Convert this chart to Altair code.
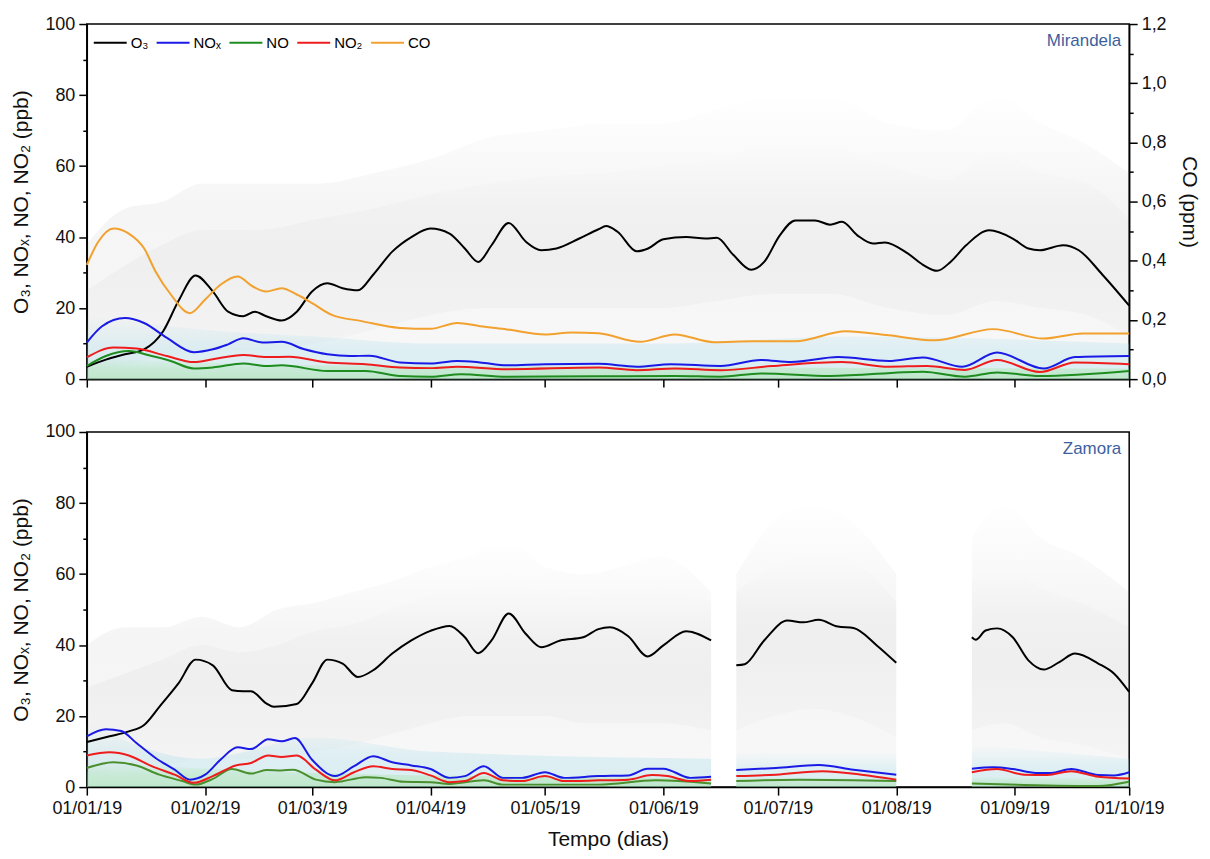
import altair as alt
import pandas as pd

FONT = "Liberation Sans"
W, H = 1045, 356

# x axis: days since 01/01/19, ticks at the first day of each month
MONTH_TICKS = [0, 31, 59, 90, 120, 151, 181, 212, 243, 273]
SERIES = ["O₃", "NOₓ", "NO", "NO₂", "CO"]
TOP_COLORS = ["#000000", "#1a1ae6", "#1e8c1e", "#ee1c1c", "#f2a12e"]
BOT_COLORS = ["#000000", "#1a1ae6", "#4a8f2e", "#ee1c1c", "#f2a12e"]

# ---------------- Mirandela (day, ppb) ----------------
MIR_O3 = [(0, 3.5), (5, 5.5), (10, 7), (15, 8.4), (20, 13.5), (24, 22), (28.5, 29.2),
          (33, 24.7), (37, 19), (41, 17.7), (44, 19), (47, 17.7), (51, 16.5), (55, 19),
          (59, 24.7), (63, 27), (67, 25.6), (71, 25), (75, 29.4), (80, 35.9), (85, 40),
          (90, 42.4), (95, 41), (99, 36.8), (102.5, 33), (106, 37.7), (110.5, 44),
          (115, 38.7), (119, 36.3), (123, 36.8), (129, 39.6), (134, 42.2), (136, 43.1),
          (139, 41.5), (144, 36.0), (147, 36.8), (151, 39.4), (157, 40), (162, 39.6),
          (165, 39.8), (169.3, 35), (174, 30.8), (177.4, 33), (181.5, 40.5), (185.6, 44.7),
          (190.7, 44.7), (194.7, 43.5), (197.8, 44.3), (201.8, 40.5), (205.9, 38.2),
          (209, 38.5), (215, 35.4), (219, 32.2), (222.7, 30.5), (226.2, 33), (230.3, 37.7),
          (236.4, 41.9), (242.5, 39.6), (246.6, 36.8), (249.6, 36.3), (255.7, 37.7),
          (259.8, 36.3), (266, 29.4), (273, 20.7)]
MIR_NOX = [(0, 10.3), (4, 14.9), (10, 17.2), (15, 15.8), (21, 11.6), (28, 7.6), (33, 8.4),
           (37, 9.8), (41, 11.5), (46, 10.3), (51, 10.5), (57, 8.4), (63, 7), (69, 6.5),
           (74, 6.6), (82, 4.7), (90, 4.4), (97, 5.1), (103, 4.7), (110, 3.9), (120, 4.2),
           (134, 4.3), (144, 3.5), (153, 4.2), (166, 3.7), (176.5, 5.4), (184.5, 4.8),
           (196.8, 6.2), (210, 5.1), (219, 6.1), (229.3, 3.5), (238.4, 7.5), (250.6, 3),
           (258.8, 6.2), (273, 6.5)]
MIR_NO2 = [(0, 6.1), (7, 8.9), (13, 8.6), (21, 6.5), (28, 4.8), (33, 5.6), (41, 6.8),
           (47, 6.2), (53, 6.3), (63, 4.7), (73, 4.2), (82, 3.3), (90, 3.1), (97, 3.5),
           (110, 2.8), (134, 3.3), (144, 2.5), (154, 3), (166, 2.5), (179.5, 3.7),
           (197.8, 4.8), (210, 3.5), (220, 3.7), (230, 2.6), (238.4, 5.4), (249.6, 2),
           (258.8, 4.7), (273, 4.2)]
MIR_NO = [(0, 3.7), (5, 6.5), (11, 7.9), (17, 6.5), (22, 5.1), (28, 3), (33, 3.3), (41, 4.4),
          (47, 3.7), (51, 3.9), (63, 2.3), (73, 2.3), (82, 0.9), (90, 0.7), (98, 1.4),
          (110, 0.7), (134, 0.8), (154, 0.9), (166, 0.7), (176.5, 1.6), (194.7, 0.9),
          (219, 2.1), (230, 0.7), (238.4, 1.9), (249.6, 0.9), (273, 2.3)]
# CO in ppm (right axis)
MIR_CO = [(0, 0.386), (3, 0.464), (7, 0.509), (11, 0.492), (15, 0.442), (18, 0.364),
          (22, 0.286), (27, 0.223), (31, 0.269), (35, 0.319), (39.5, 0.347), (43.5, 0.313),
          (47, 0.296), (51, 0.307), (55, 0.286), (59, 0.257), (64, 0.218), (72, 0.196),
          (82, 0.173), (90, 0.170), (97, 0.190), (103, 0.179), (110, 0.168), (120, 0.151),
          (127, 0.158), (134, 0.155), (144.9, 0.126), (154, 0.151), (164.2, 0.125),
          (174.4, 0.128), (185.6, 0.128), (198.8, 0.162), (210, 0.148), (222, 0.131),
          (237.4, 0.169), (250.6, 0.137), (260.8, 0.154), (273, 0.154)]
# hourly-data cloud envelope: (day, dense low, dense high, max)
MIR_O3_CLOUD = [(0, 2, 25, 38), (10, 4, 32, 48), (20, 6, 38, 50), (30, 8, 42, 55),
                (45, 8, 42, 55), (60, 10, 45, 55), (75, 14, 48, 58), (90, 18, 52, 62),
                (105, 20, 55, 68), (120, 20, 57, 70), (135, 20, 58, 72), (150, 20, 60, 72),
                (165, 22, 62, 76), (180, 24, 66, 80), (195, 24, 65, 80), (210, 20, 60, 72),
                (225, 18, 56, 70), (238, 22, 64, 80), (250, 20, 58, 72), (262, 18, 55, 66),
                (273, 12, 45, 58)]
MIR_NOX_CLOUD = [(0, 18), (30, 14), (60, 12), (90, 10), (150, 10), (200, 12), (273, 10)]
MIR_NO_CLOUD = [(0, 6), (60, 4), (273, 3)]

# ---------------- Zamora (day, ppb), data gaps split into segments ----------------
ZAM_O3 = [
    [(0, 12.7), (6, 14.3), (11, 15.7), (15, 17.5), (19, 22.6), (24, 29.2), (28.5, 35.9),
     (33, 34.3), (38, 27.3), (41, 27), (43, 27), (47, 23.6), (49, 22.6), (55, 23.4),
     (59, 29.2), (63, 35.9), (67, 34.8), (71, 31), (75, 32.9), (80, 37.6), (85, 41.3),
     (90, 44), (95, 45.4), (99, 42.2), (102.5, 37.7), (106, 41.3), (110.5, 48.9),
     (115, 43.1), (119, 39.4), (124, 41.3), (130, 42.2), (134, 44.5), (137, 45),
     (141.8, 42.5), (146.9, 36.8), (151, 39.9), (157, 43.9), (163.5, 41.3)],
    [(170.1, 34.3), (172.3, 34.6), (177.4, 41.3), (183.5, 46.9), (187.6, 46.4),
     (191.7, 47.1), (196.7, 45.2), (200.8, 44.8), (206.9, 39.9), (212, 35)],
    [(231.8, 42.2), (232.8, 41.5), (235.4, 44.1), (238.4, 44.7), (242.5, 42.2),
     (246.6, 35.7), (250.6, 33.1), (254.7, 35.2), (258.8, 37.6), (264.9, 34.8),
     (269, 32), (273, 26.8)],
]
ZAM_NOX = [
    [(0, 14.3), (5, 16.3), (9, 15.8), (13, 12.4), (18, 8.2), (23, 4.9), (27, 2.1), (31, 3.5),
     (35, 7.7), (39.5, 11.2), (43, 10.7), (47.5, 13.5), (51, 12.9), (54.5, 13.8), (59, 7.7),
     (65, 3.1), (70, 5.9), (75, 8.7), (80, 7), (85, 6.1), (90, 5.1), (95, 2.6), (99, 3.1),
     (104, 5.9), (109, 2.6), (114, 2.6), (120, 4.2), (125, 2.6), (134, 3.1), (141.8, 3.3),
     (146.9, 5.2), (151, 5.2), (158.1, 2.6), (163.5, 2.9)],
    [(170.1, 4.8), (180.5, 5.4), (191.7, 6.2), (200.8, 4.9), (212, 3.5)],
    [(231.8, 5.2), (237.4, 5.6), (242.5, 5.1), (248.6, 4), (252.6, 4), (257.8, 5.1),
     (264.9, 3.4), (269, 3.3), (273, 4.2)],
]
ZAM_NO2 = [
    [(0, 8.9), (6, 9.8), (11, 8.9), (17, 5.9), (23, 3.5), (28, 1.2), (33, 3.1), (39, 6.1),
     (43, 6.8), (47.5, 8.9), (51, 8.5), (55, 8.9), (60, 4.9), (65, 1.9), (70, 4.2), (75, 5.9),
     (80, 5.1), (85, 4.8), (90, 3.3), (95, 1.4), (99, 1.7), (104, 4), (109, 1.9), (114, 1.7),
     (120, 3.1), (125, 1.7), (134, 1.9), (141.8, 2.1), (148, 3.4), (152, 3.1), (158.1, 1.7),
     (163.5, 2.1)],
    [(170.1, 3.1), (180.5, 3.5), (192.7, 4.5), (202.9, 3.5), (212, 2.1)],
    [(231.8, 4.2), (238.4, 5.1), (245.5, 3.5), (251.6, 3.4), (257.8, 4.5), (264.9, 2.9),
     (273, 2.4)],
]
ZAM_NO = [
    [(0, 5.4), (7, 7), (13, 6.1), (19, 3.5), (25, 1.7), (28.5, 0.7), (33, 2.3), (38, 5.1),
     (43, 3.8), (47, 4.8), (51, 4.7), (54, 4.9), (60, 2.1), (65, 1.4), (73, 2.8), (77, 2.6),
     (83, 1.5), (90, 1.4), (95, 0.9), (104, 1.9), (109, 0.7), (120, 0.7), (134, 0.7),
     (149, 1.9), (163.5, 1)],
    [(170.1, 1.7), (186.6, 2.1), (212, 1.7)],
    [(231.8, 1), (245.5, 0.6), (264.9, 0.3), (273, 1.5)],
]
ZAM_O3_CLOUD = [
    [(0, 3, 28, 40), (10, 5, 32, 45), (20, 6, 36, 45), (30, 8, 40, 48), (40, 8, 38, 45),
     (50, 8, 40, 50), (60, 10, 44, 52), (70, 12, 46, 55), (80, 15, 50, 58), (90, 18, 54, 62),
     (100, 20, 56, 65), (110, 20, 58, 70), (120, 20, 55, 62), (130, 18, 54, 60),
     (140, 18, 55, 62), (150, 18, 56, 65), (163.5, 16, 52, 55)],
    [(170.1, 16, 55, 60), (180, 20, 62, 75), (190, 22, 66, 80), (200, 20, 64, 75),
     (212, 14, 52, 60)],
    [(231.8, 16, 58, 70), (240, 18, 62, 80), (250, 14, 56, 70), (260, 12, 52, 65),
     (273, 8, 45, 55)],
]
ZAM_NOX_CLOUD = [[(0, 18), (30, 8), (60, 14), (90, 10), (163.5, 8)],
                 [(170.1, 10), (212, 10)],
                 [(231.8, 12), (273, 8)]]
ZAM_NO_CLOUD = [[(0, 7), (60, 4), (163.5, 2.5)],
                [(170.1, 3), (212, 3)],
                [(231.8, 3), (273, 2.5)]]


def lines_df(named):
    rows = []
    for name, segs in named:
        for i, seg in enumerate(segs):
            for d, v in seg:
                rows.append({"day": d, "value": v, "series": name, "seg": f"{name}-{i}"})
    return pd.DataFrame(rows)


def cloud_df(segs):
    rows = []
    for i, seg in enumerate(segs):
        for p in seg:
            r = {"day": p[0], "seg": i, "zero": 0}
            if len(p) == 4:
                r.update({"lo": p[1], "hi": p[2], "top": p[3]})
            else:
                r.update({"top": p[1]})
            rows.append(r)
    return pd.DataFrame(rows)


def fade(rgb, a_top, a_mid, a_bot, mid=0.4):
    return alt.Gradient(gradient="linear", x1=0, x2=0, y1=0, y2=1,
                        stops=[alt.GradientStop(color=f"rgba({rgb},{a_top})", offset=0),
                               alt.GradientStop(color=f"rgba({rgb},{a_mid})", offset=mid),
                               alt.GradientStop(color=f"rgba({rgb},{a_bot})", offset=1)])


XSCALE = alt.Scale(domain=[0, 273], nice=False, zero=False)
Y100 = alt.Scale(domain=[0, 100], nice=False, zero=False)


def xenc(labels):
    axis = alt.Axis(values=MONTH_TICKS, labels=labels, title="Tempo (dias)" if labels else None,
                    labelExpr="timeFormat(datetime(2019, 0, 1 + datum.value), '%d/%m/%y')",
                    tickSize=8, labelFontSize=18, titleFontSize=21, labelPadding=4,
                    titlePadding=12, grid=False, labelFlush=False, labelOverlap=False)
    return alt.X("day:Q", scale=XSCALE, axis=axis)


MAIN_Y_AXIS = alt.Axis(values=[0, 20, 40, 60, 80, 100], orient="left",
                       title="O₃, NOₓ, NO, NO₂ (ppb)", tickSize=8, labelFontSize=18,
                       titleFontSize=21, labelPadding=4, titlePadding=13, grid=False)
MINOR_Y_AXIS = alt.Axis(values=[10, 30, 50, 70, 90], orient="left", labels=False,
                        title=None, tickSize=4, domain=False, grid=False)


def panel(line_data, clouds, colors, station, with_co):
    o3c, noxc, noc = clouds
    x = xenc(not with_co)
    layers = []
    # hourly data clouds (faint)
    layers.append(alt.Chart(o3c).mark_area(color=fade("110,110,110", 0.0, 0.07, 0.05), interpolate="monotone")
                  .encode(x=x, y=alt.Y("top:Q", scale=Y100, axis=MAIN_Y_AXIS), y2="zero:Q",
                          detail="seg:N"))
    layers.append(alt.Chart(o3c).mark_area(color=fade("110,110,110", 0.0, 0.05, 0.02, 0.5), interpolate="monotone")
                  .encode(x=x, y=alt.Y("hi:Q", scale=Y100, axis=None), y2="lo:Q",
                          detail="seg:N"))
    nox_axis = None
    if with_co:
        nox_axis = alt.Axis(values=[100 * v / 1.2 for v in [0.1, 0.3, 0.5, 0.7, 0.9, 1.1]],
                            orient="right", labels=False, title=None, tickSize=4,
                            domain=False, grid=False)
    layers.append(alt.Chart(noxc).mark_area(color=fade("150,215,230", 0.0, 0.25, 0.3, 0.5), interpolate="monotone")
                  .encode(x=x, y=alt.Y("top:Q", scale=Y100, axis=nox_axis), y2="zero:Q",
                          detail="seg:N"))
    layers.append(alt.Chart(noc).mark_area(color=fade("140,220,130", 0.0, 0.25, 0.35, 0.5), interpolate="monotone")
                  .encode(x=x, y=alt.Y("top:Q", scale=Y100, axis=None), y2="zero:Q",
                          detail="seg:N"))

    cscale = alt.Scale(domain=SERIES, range=colors)
    legend = None
    if with_co:
        legend = alt.Legend(orient="none", legendX=6, legendY=1, direction="horizontal",
                            columns=5, title=None, symbolType="stroke", symbolSize=1089,
                            symbolStrokeWidth=2, labelFontSize=15, labelFont=FONT,
                            labelColor="black", labelOffset=3, columnPadding=4, padding=0)
    ppb = line_data[line_data["series"] != "CO"]
    layers.append(alt.Chart(ppb).mark_line(strokeWidth=2, interpolate="monotone")
                  .encode(x=x, y=alt.Y("value:Q", scale=Y100, axis=MINOR_Y_AXIS),
                          color=alt.Color("series:N", scale=cscale, legend=legend),
                          detail="seg:N", order=alt.Order("day:Q")))
    if with_co:
        co = line_data[line_data["series"] == "CO"]
        layers.append(alt.Chart(co).mark_line(strokeWidth=2, interpolate="monotone")
                      .encode(x=x,
                              y=alt.Y("value:Q", scale=alt.Scale(domain=[0, 1.2], nice=False, zero=False),
                                      axis=alt.Axis(values=[0, 0.2, 0.4, 0.6, 0.8, 1.0, 1.2],
                                                    orient="right", title="CO (ppm)",
                                                    labelExpr="replace(format(datum.value, '.1f'), '.', ',')",
                                                    tickSize=8, labelFontSize=18, titleFontSize=21,
                                                    labelPadding=4, titlePadding=12, grid=False)),
                              color=alt.Color("series:N", scale=cscale, legend=legend),
                              detail="seg:N", order=alt.Order("day:Q")))
    layers.append(alt.Chart(pd.DataFrame({"label": [station]}))
                  .mark_text(align="right", baseline="middle", fontSize=17, font=FONT,
                             color="#3c5f9e")
                  .encode(x=alt.value(W - 8), y=alt.value(17), text="label:N"))
    return (alt.layer(*layers)
            .resolve_scale(y="independent")
            .resolve_axis(y="independent")
            .properties(width=W, height=H))


top_lines = lines_df([("O₃", [MIR_O3]), ("NOₓ", [MIR_NOX]), ("NO", [MIR_NO]),
                      ("NO₂", [MIR_NO2]), ("CO", [MIR_CO])])
bot_lines = lines_df([("O₃", ZAM_O3), ("NOₓ", ZAM_NOX), ("NO", ZAM_NO), ("NO₂", ZAM_NO2)])

top = panel(top_lines, (cloud_df([MIR_O3_CLOUD]), cloud_df([MIR_NOX_CLOUD]), cloud_df([MIR_NO_CLOUD])),
            TOP_COLORS, "Mirandela", True)
bottom = panel(bot_lines, (cloud_df(ZAM_O3_CLOUD), cloud_df(ZAM_NOX_CLOUD), cloud_df(ZAM_NO_CLOUD)),
               BOT_COLORS, "Zamora", False)

chart = (alt.vconcat(top, bottom, spacing=33)
         .resolve_scale(color="independent", y="independent")
         .properties(padding={"left": 2, "top": 5, "right": 2, "bottom": 5}, background="white")
         .configure_axis(domainColor="black", domainWidth=1.5, tickColor="black", tickWidth=1.5,
                         labelColor="#111111", titleColor="#111111", labelFont=FONT, titleFont=FONT,
                         titleFontWeight="normal")
         .configure_view(stroke="black", strokeWidth=1.5))

chart.save("out.html", embed_options={"renderer": "svg", "actions": False})
